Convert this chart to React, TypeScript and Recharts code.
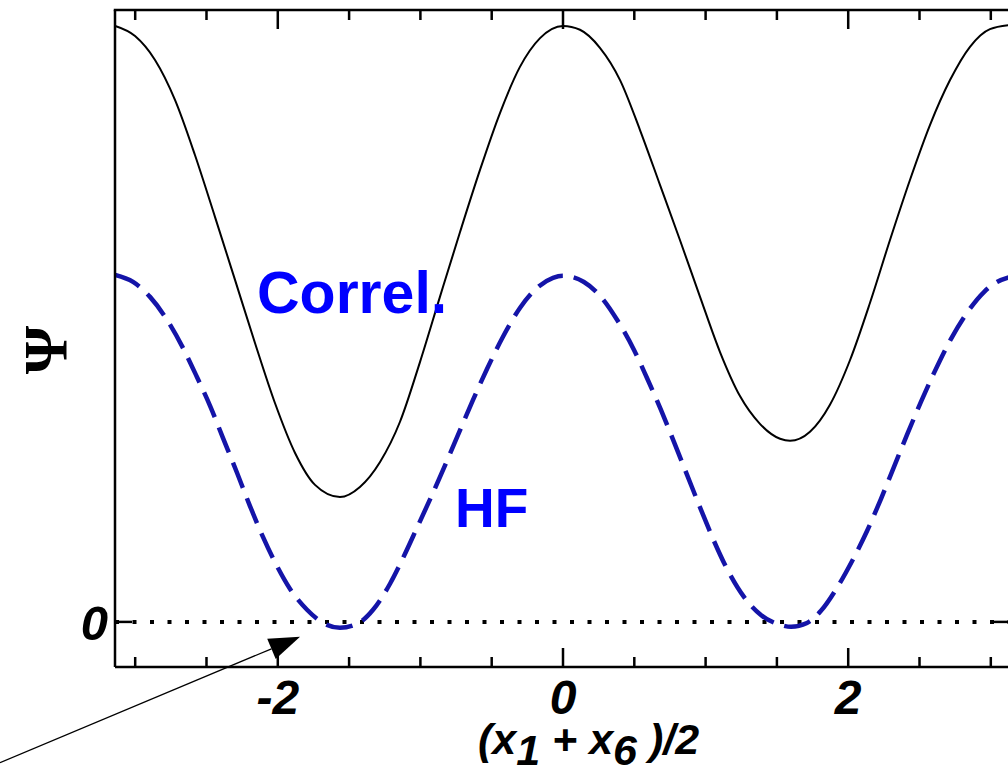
import { LineChart, Line, XAxis, YAxis, ReferenceLine } from 'recharts';

// Correl. curve (solid black)
const correlX = [
  -3.14, -3.001, -2.861, -2.721, -2.581, -2.44, -2.3, -2.16, -2.02, -1.879, -1.739, -1.564,
  -1.424, -1.283, -1.143, -1.003, -0.863, -0.722, -0.582, -0.442, -0.302, -0.161, 0,
  0.119, 0.259, 0.4, 0.54, 0.68, 0.82, 0.961, 1.101, 1.241, 1.381, 1.522, 1.592,
  1.732, 1.872, 2.013, 2.153, 2.293, 2.433, 2.574, 2.714, 2.854, 2.994, 3.14,
];
const correlY = [
  1.718, 1.689, 1.62, 1.505, 1.346, 1.167, 0.986, 0.804, 0.631, 0.487, 0.395, 0.36,
  0.389, 0.461, 0.577, 0.749, 0.937, 1.124, 1.303, 1.467, 1.6, 1.683, 1.718,
  1.707, 1.655, 1.562, 1.418, 1.26, 1.101, 0.937, 0.778, 0.651, 0.571, 0.528, 0.522,
  0.548, 0.626, 0.755, 0.92, 1.101, 1.274, 1.433, 1.562, 1.658, 1.709, 1.721,
];

// HF curve (dashed blue)
const hfX = [
  -3.14, -3.015, -2.896, -2.777, -2.665, -2.567, -2.475, -2.384, -2.286, -2.195, -2.104, -2.006,
  -1.914, -1.795, -1.683, -1.564, -1.445, -1.332, -1.213, -1.122, -1.024, -0.912, -0.814, -0.722,
  -0.631, -0.533, -0.421, -0.302, -0.182, -0.07, 0, 0.147, 0.266, 0.379, 0.498, 0.589, 0.687,
  0.778, 0.87, 0.968, 1.059, 1.15, 1.269, 1.388, 1.529, 1.599, 1.711, 1.809, 1.921, 2.02,
  2.132, 2.23, 2.321, 2.412, 2.51, 2.602, 2.721, 2.833, 2.952, 3.043, 3.14,
];
const hfY = [
  1.0, 0.98, 0.937, 0.871, 0.79, 0.706, 0.623, 0.53, 0.43, 0.334, 0.245, 0.161,
  0.095, 0.035, -0.003, -0.017, -0.006, 0.035, 0.11, 0.184, 0.271, 0.372, 0.464, 0.553,
  0.64, 0.729, 0.822, 0.905, 0.963, 0.992, 0.998, 0.98, 0.937, 0.871, 0.784, 0.703, 0.611,
  0.519, 0.424, 0.323, 0.233, 0.153, 0.072, 0.02, -0.009, -0.014, -0.003, 0.032, 0.098, 0.17,
  0.262, 0.355, 0.447, 0.539, 0.634, 0.718, 0.816, 0.891, 0.951, 0.98, 0.995,
];

const xTicks = [-3, -2.5, -2, -1.5, -1, -0.5, 0, 0.5, 1, 1.5, 2, 2.5, 3];
const xMajor = [-2, 0, 2];
const yTicks = [0];

const arrowFrom = { x: -3.948, y: -0.406 };
const arrowTo = { x: -1.844, y: -0.043 };

const correlData = correlX.map((x, i) => ({ x, y: correlY[i] }));
const hfData = hfX.map((x, i) => ({ x, y: hfY[i] }));

const X_DOMAIN = [-Math.PI, Math.PI];
const Y_DOMAIN = [-0.13, 1.764];
const SANS = '"Liberation Sans", Arial, Helvetica, sans-serif';

const BottomTick = (props: any) => {
  const { x, y, payload } = props;
  const major = xMajor.includes(payload.value);
  return (
    <g>
      <line x1={x} x2={x} y1={y} y2={y - (major ? 19 : 10)} stroke="#000" strokeWidth={2.5} />
      {major && (
        <text x={x} y={y + 47} textAnchor="middle" fontFamily={SANS} fontWeight="bold" fontStyle="italic" fontSize={48} fill="#000">
          {String(payload.value)}
        </text>
      )}
    </g>
  );
};

const LeftTick = (props: any) => {
  const { x, y, payload } = props;
  return (
    <g>
      <line x1={x} x2={x + 17} y1={y} y2={y} stroke="#000" strokeWidth={2.5} />
      <text x={x - 7} y={y + 18} textAnchor="end" fontFamily={SANS} fontWeight="bold" fontStyle="italic" fontSize={49} fill="#000">
        {String(payload.value)}
      </text>
    </g>
  );
};

// top frame edge with its downward ticks, drawn from a segment along the top of the plot
const TopFrame = (props: any) => {
  const { x1, y1, x2 } = props;
  const w = x2 - x1;
  const span = X_DOMAIN[1] - X_DOMAIN[0];
  return (
    <g>
      <rect x={x1 - 1.25} y={y1 - 1.25} width={w + 2.5} height={2.5} fill="#000" />
      {xTicks.map((t) => {
        const tx = x1 + ((t - X_DOMAIN[0]) / span) * w;
        return <rect key={t} x={tx - 1.25} y={y1} width={2.5} height={xMajor.includes(t) ? 19 : 10} fill="#000" />;
      })}
    </g>
  );
};

// short inward tick on the right frame, at y = 0
const RightTickShape = (props: any) => {
  const { x1, y1 } = props;
  return <rect x={x1 - 17} y={y1 - 1.25} width={17} height={2.5} fill="#000" />;
};

const Arrow = (props: any) => {
  const { x1, y1, x2, y2 } = props;
  const dx = x2 - x1;
  const dy = y2 - y1;
  const len = Math.sqrt(dx * dx + dy * dy);
  const ux = dx / len;
  const uy = dy / len;
  const headLen = 31;
  const halfW = 11;
  const bx = x2 - ux * headLen;
  const by = y2 - uy * headLen;
  const pts = `${x2},${y2} ${bx - uy * halfW},${by + ux * halfW} ${bx + uy * halfW},${by - ux * halfW}`;
  return (
    <g>
      <line x1={x1} y1={y1} x2={bx} y2={by} stroke="#000" strokeWidth={1.3} />
      <polygon points={pts} fill="#000" />
    </g>
  );
};

export default function App() {
  const [xMin, xMax] = X_DOMAIN;
  const yMax = Y_DOMAIN[1];
  return (
    <div style={{ position: 'absolute', left: 0, top: 0, width: 1008, height: 775, overflow: 'hidden', background: '#fff' }}>
      <LineChart width={1030} height={775} margin={{ top: 10, right: 19, bottom: 0, left: 0 }}>
        <XAxis
          dataKey="x"
          type="number"
          domain={X_DOMAIN}
          ticks={xTicks}
          interval={0}
          allowDataOverflow
          height={108}
          tickSize={0}
          tickMargin={0}
          tickLine={false}
          axisLine={{ stroke: '#000', strokeWidth: 2.5 }}
          tick={BottomTick}
        />
        <YAxis
          type="number"
          domain={Y_DOMAIN}
          ticks={yTicks}
          allowDataOverflow
          width={115}
          tickSize={0}
          tickMargin={0}
          tickLine={false}
          axisLine={{ stroke: '#000', strokeWidth: 2.5 }}
          tick={LeftTick}
        />
        <ReferenceLine y={0} stroke="#000" strokeWidth={4} strokeDasharray="4 13.5" />
        <Line
          data={correlData}
          dataKey="y"
          type="monotone"
          stroke="#000"
          strokeWidth={2}
          dot={false}
          isAnimationActive={false}
        />
        <Line
          data={hfData}
          dataKey="y"
          type="monotone"
          stroke="#1414a8"
          strokeWidth={4.5}
          strokeDasharray="27 11"
          dot={false}
          isAnimationActive={false}
        />
        {/* frame: top edge with ticks, right-edge tick at 0 */}
        <ReferenceLine segment={[{ x: xMin, y: yMax }, { x: xMax, y: yMax }]} ifOverflow="visible" shape={TopFrame} />
        {yTicks.map((t) => (
          <ReferenceLine key={`r${t}`} segment={[{ x: xMax, y: t }, { x: xMax, y: t }]} ifOverflow="visible" shape={RightTickShape} />
        ))}
        <ReferenceLine segment={[arrowFrom, arrowTo]} ifOverflow="visible" shape={Arrow} />
      </LineChart>
      <svg width={1008} height={775} style={{ position: 'absolute', left: 0, top: 0, pointerEvents: 'none' }}>
        <text x={257} y={313} fontFamily={SANS} fontWeight="bold" fontSize={59} fill="#0000ff">
          Correl.
        </text>
        <text x={455} y={527} fontFamily={SANS} fontWeight="bold" fontSize={55} fill="#0000ff">
          HF
        </text>
        <text
          x={45}
          y={350}
          transform="rotate(-90 45 350)"
          textAnchor="middle"
          dominantBaseline="central"
          fontFamily='"Liberation Serif", "DejaVu Serif", serif'
          fontWeight="bold"
          fontSize={62}
          fill="#000"
        >
          Ψ
        </text>
        <text x={478} y={754} fontFamily={SANS} fontWeight="bold" fontStyle="italic" fontSize={43} fill="#000">
          (x
          <tspan dy={11}>1</tspan>
          <tspan dy={-11}> + x</tspan>
          <tspan dy={11}>6</tspan>
          <tspan dy={-11}> )/2</tspan>
        </text>
      </svg>
    </div>
  );
}
